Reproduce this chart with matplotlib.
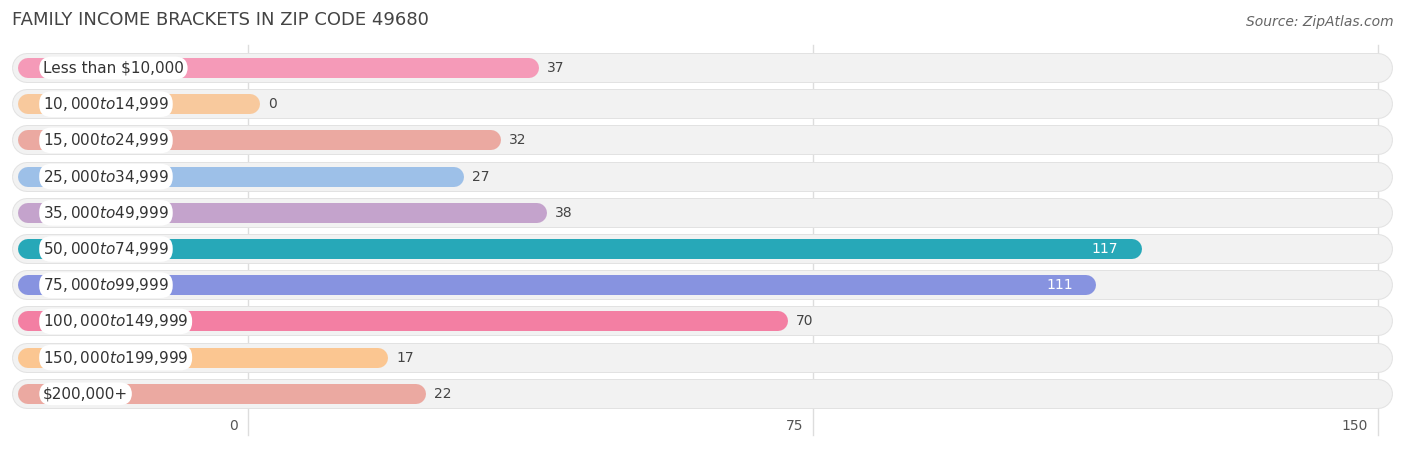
import matplotlib
matplotlib.use("Agg")
import matplotlib.pyplot as plt

categories = ["Less than $10,000", "$10,000 to $14,999", "$15,000 to $24,999", "$25,000 to $34,999",
              "$35,000 to $49,999", "$50,000 to $74,999", "$75,000 to $99,999", "$100,000 to $149,999",
              "$150,000 to $199,999", "$200,000+"]
values = [37, 0, 32, 27, 38, 117, 111, 70, 17, 22]
colors = ["#f59ab8", "#f8c99d", "#eba9a1", "#9dc0e8", "#c4a3cc", "#27a8b8", "#8793e0", "#f37fa3", "#fbc691", "#eba9a1"]
ticks = [0, 75, 150]

W, H = 1406, 449
fig = plt.figure(figsize=(W / 100, H / 100), dpi=100)
ax = fig.add_axes([0, 0, 1, 1])
ppu = 7.533
x0px = 248
ax.set_xlim(-x0px / ppu, (W - x0px) / ppu)
ax.set_ylim(H, 0)
ax.axis("off")
pt = 0.72  # points per pixel

def px2x(p):
    return (p - x0px) / ppu

for t in ticks:
    ax.plot([t, t], [45, 435], color="#dddddd", lw=1, zorder=0)
    ax.text(t - 1.3, 426, str(t), ha="right", va="center", fontsize=10, color="#555555")

for i, (c, v, col) in enumerate(zip(categories, values, colors)):
    y = 68 + i * 36.2
    ax.plot([px2x(27), px2x(1378)], [y, y], color="#e2e2e2", lw=30 * pt, solid_capstyle="round", zorder=1)
    ax.plot([px2x(27), px2x(1378)], [y, y], color="#f2f2f2", lw=28 * pt, solid_capstyle="round", zorder=1)
    ax.plot([px2x(28), v + 0.3], [y, y], color=col, lw=20 * pt, solid_capstyle="round", zorder=2)
    ax.text(px2x(43), y, c, ha="left", va="center", fontsize=11, color="#333333", zorder=4,
            bbox=dict(boxstyle="round,pad=0.25,rounding_size=0.8", fc="white", ec="none"))
    if v > 90:
        ax.text(v - 1.5, y, str(v), ha="right", va="center", fontsize=10, color="white", zorder=4)
    else:
        ax.text(v + 2.7, y, str(v), ha="left", va="center", fontsize=10, color="#444444", zorder=4)

fig.text(12 / W, 1 - 20 / H, "FAMILY INCOME BRACKETS IN ZIP CODE 49680", ha="left", va="center",
         fontsize=13, color="#444444")
fig.text(1394 / W, 1 - 22 / H, "Source: ZipAtlas.com", ha="right", va="center",
         fontsize=10, color="#666666", style="italic")

fig.savefig("out.png", dpi=100)
